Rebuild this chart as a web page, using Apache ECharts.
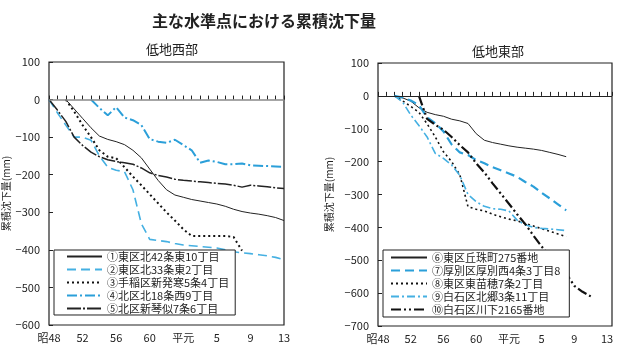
<!DOCTYPE html>
<html>
<head>
<meta charset="utf-8">
<script src="https://cdn.jsdelivr.net/npm/echarts@6/dist/echarts.min.js"></script>
<style>
  html, body { margin: 0; padding: 0; background: #fff; }
  #chart { width: 619px; height: 350px; }
</style>
</head>
<body>
<div id="chart"></div>
<script>
// 年の位置: 0 = 昭48 (1973) ... 28 = 平成13 (2001)
const tickYears = [0, 4, 8, 12, 16, 20, 24, 28];
const tickLabels = ['昭48', '52', '56', '60', '平元', '5', '9', '13'];

// 低地西部 (mm, 累積沈下量)
const westNames = ['①東区北42条東10丁目', '②東区北33条東2丁目', '③手稲区新発寒5条4丁目', '④北区北18条西9丁目', '⑤北区新琴似7条6丁目'];
const west1 = [null, null, 0, -25, -50, -75, -97, -106, -112, -120, -135, -155, -185, -215, -240, -254, -260, -266, -270, -274, -278, -284, -292, -298, -302, -305, -309, -314, -322];
const west2 = [0, -35, -68, -100, -100, -108, -150, -180, -188, -192, -240, -330, -372, -375, -378, -383, -387, -389, -391, -393, -395, -400, -405, -408, -410, -413, -416, -420, -426];
const west3 = [null, null, 0, -32, -68, -100, -135, -152, -156, -180, -205, -228, -252, -276, -300, -322, -345, -363, -363, -363, -363, -363, -366, -402, null, null, null, null, null];
const west4 = [null, null, null, null, null, 0, -22, -42, -20, -48, -55, -68, -105, -112, -115, -107, -121, -135, -168, -162, -166, -172, -172, -170, -175, -176, -177, -178, -179];
const west5 = [0, -28, -58, -100, -122, -140, -152, -160, -165, -168, -172, -182, -195, -202, -206, -212, -215, -217, -219, -221, -223, -225, -228, -233, -228, -230, -232, -235, -237];

// 低地東部
const eastNames = ['⑥東区丘珠町275番地', '⑦厚別区厚別西4条3丁目8', '⑧東区東苗穂7条2丁目', '⑨白石区北郷3条11丁目', '⑩白石区川下2165番地'];
const east6 = [null, null, 0, -6, -16, -36, -50, -57, -62, -71, -76, -84, -115, -135, -142, -147, -152, -156, -159, -162, -166, -172, -178, -185];
const east7 = [null, null, 0, -5, -14, -28, -65, -83, -108, -148, -172, -180, -195, -205, -217, -226, -236, -246, -262, -276, -295, -312, -330, -348];
const east8 = [null, null, 0, -15, -32, -50, -85, -125, -170, -200, -240, -337, -345, -350, -360, -368, -375, -380, -388, -396, -404, -412, -420, -428];
const east9 = [null, null, 0, -18, -58, -90, -125, -175, -190, -210, -242, -300, -322, -336, -343, -345, -350, -378, -392, -400, -403, -405, -407, -410];
const east10 = [null, null, null, null, null, 0, -70, -88, -103, -125, -150, -172, -205, -233, -266, -297, -328, -360, -390, -425, -458, -488, -515, -540, -578, -596, -610];

const FONT = '"Noto Sans CJK JP", "Noto Sans", sans-serif';
const BLUE = '#2b9fd9';
const LIGHT = '#45b0e2';

function pairs(values) {
    return values.map((v, i) => [i, v]);
}

function xAxisFor(gridIndex, max) {
    return {
        type: 'value', gridIndex: gridIndex, min: 0, max: max, interval: 1,
        axisLine: { show: false },
        axisTick: { inside: true, length: 4, lineStyle: { color: '#222' } },
        splitLine: { show: false },
        axisLabel: {
            color: '#222', fontFamily: FONT, fontSize: 11, margin: 7,
            formatter: function (v) {
                const k = tickYears.indexOf(v);
                return k >= 0 ? tickLabels[k] : '';
            }
        }
    };
}

function yAxisFor(gridIndex, min, gap) {
    return {
        type: 'value', gridIndex: gridIndex, min: min, max: 100, interval: 100,
        name: '累積沈下量(mm)', nameLocation: 'middle', nameGap: gap,
        nameTextStyle: { color: '#222', fontFamily: FONT, fontSize: 10 },
        axisLine: { show: false },
        axisTick: { inside: true, length: 4, lineStyle: { color: '#222' } },
        splitLine: { show: false },
        axisLabel: {
            color: '#222', fontFamily: FONT, fontSize: 11, margin: 9,
            formatter: v => v < 0 ? '−' + Math.abs(v) : String(v)
        }
    };
}

function line(name, values, axis, color, width, dash) {
    return {
        name: name, type: 'line', xAxisIndex: axis, yAxisIndex: axis,
        data: pairs(values), symbol: 'none', connectNulls: false,
        lineStyle: { color: color, width: width, type: dash },
        itemStyle: { color: color }
    };
}

const chart = echarts.init(document.getElementById('chart'));

const series = [
    line(westNames[0], west1, 0, '#222', 1, 'solid'),
    line(westNames[1], west2, 0, LIGHT, 1.6, [9, 5]),
    line(westNames[2], west3, 0, '#111', 2, [2, 3]),
    line(westNames[3], west4, 0, BLUE, 2, [10, 3, 2, 3]),
    line(westNames[4], west5, 0, '#222', 1.5, [14, 2, 2, 2]),
    line(eastNames[0], east6, 1, '#222', 1, 'solid'),
    line(eastNames[1], east7, 1, BLUE, 2.2, [9, 5]),
    line(eastNames[2], east8, 1, '#111', 1.6, [2, 3]),
    line(eastNames[3], east9, 1, LIGHT, 1.6, [8, 3, 2, 3]),
    line(eastNames[4], east10, 1, '#111', 2.2, [10, 3, 2, 3, 2, 3])
];
// ゼロの基準線
series[0].markLine = { silent: true, symbol: 'none', label: { show: false },
    lineStyle: { color: '#888', width: 1.5, type: 'solid' }, data: [{ yAxis: 0 }] };
series[5].markLine = { silent: true, symbol: 'none', label: { show: false },
    lineStyle: { color: '#222', width: 1, type: 'solid' }, data: [{ yAxis: 0 }] };

const legendBase = {
    orient: 'vertical', backgroundColor: '#fff', borderColor: '#222', borderWidth: 1,
    itemWidth: 35, itemHeight: 11, itemGap: 2, borderRadius: 0,
    itemStyle: { opacity: 0 },
    textStyle: { color: '#222', fontFamily: FONT, fontSize: 11 }
};

chart.setOption({
    animation: false,
    title: [
        { text: '主な水準点における累積沈下量', left: 259, top: 8, textAlign: 'center',
          textStyle: { fontFamily: FONT, fontSize: 16, fontWeight: 'bold', color: '#222' } },
        { text: '低地西部', left: 167, top: 38, textAlign: 'center',
          textStyle: { fontFamily: FONT, fontSize: 13, fontWeight: 'normal', color: '#222' } },
        { text: '低地東部', left: 493, top: 40, textAlign: 'center',
          textStyle: { fontFamily: FONT, fontSize: 13, fontWeight: 'normal', color: '#222' } }
    ],
    grid: [
        { left: 48, right: 335, top: 62, bottom: 25, show: true, borderColor: '#222', borderWidth: 1.2 },
        { left: 378, right: 7, top: 63, bottom: 24, show: true, borderColor: '#222', borderWidth: 1.2 }
    ],
    xAxis: [xAxisFor(0, 28), xAxisFor(1, 28.6)],
    yAxis: [yAxisFor(0, -600, 38), yAxisFor(1, -700, 44)],
    legend: [
        Object.assign({}, legendBase, { data: westNames, left: 54, top: 250, padding: [1, 6, 1, 12] }),
        Object.assign({}, legendBase, { data: eastNames, left: 383, top: 250, itemWidth: 36, itemHeight: 12, padding: [2, 9, 2, 7] })
    ],
    series: series
});
</script>
</body>
</html>
